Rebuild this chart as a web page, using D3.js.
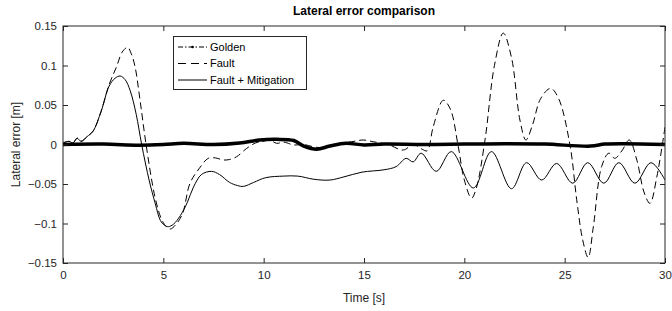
<!DOCTYPE html>
<html>
<head>
<meta charset="utf-8">
<script src="https://cdn.jsdelivr.net/npm/d3@7"></script>
<style>
  body { margin: 0; background: #fff; }
  svg { display: block; font-family: 'Liberation Sans', Arial, sans-serif; }
</style>
</head>
<body>
<svg id="chart" width="672" height="311"></svg>
<script>
const xTicks = [0, 5, 10, 15, 20, 25, 30];
const yTicks = [-0.15, -0.1, -0.05, 0, 0.05, 0.1, 0.15];

const goldenT = [0, 2, 3.8, 5, 6, 7.5, 8.8, 9.8, 10.65, 11.5, 12.0, 12.64, 13.3, 14.1, 15, 16, 18, 20, 22, 24, 26.3, 27, 28, 30];
const goldenV = [0, 0.0005, -0.0008, 0, 0.0015, 0, 0.002, 0.0057, 0.0065, 0.005, -0.002, -0.006, -0.002, 0.0015, -0.0006, 0.0005, 0, 0.0005, 0.001, 0.0005, -0.002, 0.0005, 0.001, 0];

const faultT = [0, 0.3, 0.5, 0.7, 0.9, 1.2, 1.5, 1.9, 2.3, 2.67, 2.95, 3.22, 3.4, 3.59, 3.84, 4.14, 4.58, 4.9, 5.15, 5.35, 5.6, 5.95, 6.33, 6.8, 7.24, 7.6, 7.99, 8.3, 8.65, 9.15, 9.6, 9.9, 10.3, 10.65, 11.0, 11.5, 12.0, 12.5, 13.0, 13.5, 14.5, 14.96, 15.46, 16.2, 16.96, 17.45, 17.9, 18.15, 18.45, 18.95, 19.3, 19.7, 20.0, 20.36, 20.6, 21.03, 21.5, 21.94, 22.35, 22.77, 23.07, 23.4, 23.8, 24.3, 24.7, 25.26, 25.6, 25.9, 26.17, 26.43, 26.84, 27.2, 27.5, 27.85, 28.22, 28.6, 28.95, 29.25, 29.6, 30];
const faultV = [0.002, 0.004, 0.002, 0.008, 0.004, 0.010, 0.017, 0.042, 0.076, 0.0985, 0.117, 0.123, 0.115, 0.0985, 0.056, 0, -0.066, -0.094, -0.104, -0.107, -0.102, -0.088, -0.049, -0.030, -0.0175, -0.017, -0.0196, -0.019, -0.0155, -0.005, 0.002, 0.0035, 0.0055, 0.0015, 0.003, -0.0006, 0, -0.003, -0.004, 0, 0.004, 0.0057, 0.0035, 0, -0.007, 0, -0.006, -0.008, 0.0225, 0.056, 0.045, -0.003, -0.045, -0.068, -0.055, 0.0057, 0.1, 0.141, 0.11, 0.031, 0.0057, 0.025, 0.058, 0.071, 0.058, 0, -0.07, -0.121, -0.143, -0.104, -0.028, -0.011, -0.0175, -0.008, 0.0057, -0.02, -0.06, -0.0745, -0.04, 0.022];

const mitigT = [0, 0.3, 0.5, 0.7, 0.9, 1.2, 1.5, 1.9, 2.3, 2.6, 2.85, 3.1, 3.35, 3.65, 3.92, 4.3, 4.6, 4.85, 5.05, 5.25, 5.5, 5.85, 6.2, 6.5, 6.9, 7.4, 7.8, 8.3, 8.7, 9.0, 9.5, 10.1, 11.0, 11.7, 12.5, 13.3, 14.0, 14.9, 16.0, 16.6, 17.1, 17.45, 17.85, 18.6, 19.35, 20.45, 21.35, 22.35, 23.1, 23.85, 24.6, 25.4, 26.15, 26.95, 27.7, 28.5, 29.3, 30];
const mitigV = [0.002, 0.004, 0.002, 0.008, 0.004, 0.010, 0.017, 0.042, 0.074, 0.084, 0.0867, 0.082, 0.068, 0.038, 0, -0.046, -0.075, -0.096, -0.102, -0.104, -0.101, -0.090, -0.073, -0.054, -0.038, -0.034, -0.038, -0.048, -0.052, -0.053, -0.048, -0.042, -0.040, -0.040, -0.044, -0.045, -0.041, -0.035, -0.032, -0.028, -0.0175, -0.022, -0.011, -0.034, -0.009, -0.055, -0.009, -0.056, -0.023, -0.045, -0.024, -0.049, -0.023, -0.049, -0.023, -0.049, -0.023, -0.045];

const legendLabels = ['Golden', 'Fault', 'Fault + Mitigation'];

const AXIS_COLOR = '#262626';
const LEFT = 63, RIGHT = 665, TOP = 26, BOTTOM = 263;

const svg = d3.select('#chart');
const x = d3.scaleLinear().domain([0, 30]).range([LEFT, RIGHT]);
const y = d3.scaleLinear().domain([-0.15, 0.15]).range([BOTTOM, TOP]);

const zip = (ts, vs) => ts.map((t, i) => [t, vs[i]]);
const line = d3.line()
  .x((d) => x(d[0]))
  .y((d) => y(d[1]))
  .curve(d3.curveCatmullRom.alpha(0.5));

svg.append('defs').append('clipPath').attr('id', 'clip')
  .append('rect')
  .attr('x', LEFT).attr('y', TOP)
  .attr('width', RIGHT - LEFT).attr('height', BOTTOM - TOP);

const plot = svg.append('g').attr('clip-path', 'url(#clip)');

plot.append('path')
  .datum(zip(mitigT, mitigV))
  .attr('d', line)
  .attr('fill', 'none')
  .attr('stroke', '#000')
  .attr('stroke-width', 1);

plot.append('path')
  .datum(zip(faultT, faultV))
  .attr('d', line)
  .attr('fill', 'none')
  .attr('stroke', '#000')
  .attr('stroke-width', 1)
  .attr('stroke-dasharray', '7,4');

plot.append('path')
  .datum(zip(goldenT, goldenV))
  .attr('d', line)
  .attr('fill', 'none')
  .attr('stroke', '#000')
  .attr('stroke-width', 3.5);

// axes, matlab-style box with inward ticks
const tickLen = 5;
const bottomAxis = d3.axisBottom(x).tickValues(xTicks).tickSize(-tickLen).tickPadding(8).tickFormat(d3.format('d'));
const topAxis = d3.axisTop(x).tickValues(xTicks).tickSize(-tickLen).tickFormat('');
const leftAxis = d3.axisLeft(y).tickValues(yTicks).tickSize(-tickLen).tickPadding(6).tickFormat((d) => d3.format('')(+d.toFixed(2)));
const rightAxis = d3.axisRight(y).tickValues(yTicks).tickSize(-tickLen).tickFormat('');

const styleAxis = (g) => {
  g.select('.domain').attr('stroke', AXIS_COLOR);
  g.selectAll('.tick line').attr('stroke', AXIS_COLOR);
  g.selectAll('.tick text').attr('fill', AXIS_COLOR).style('font-size', '11.5px');
};

svg.append('g').attr('transform', `translate(0,${BOTTOM})`).call(bottomAxis).call(styleAxis);
svg.append('g').attr('transform', `translate(0,${TOP})`).call(topAxis).call(styleAxis);
svg.append('g').attr('transform', `translate(${LEFT},0)`).call(leftAxis).call(styleAxis);
svg.append('g').attr('transform', `translate(${RIGHT},0)`).call(rightAxis).call(styleAxis);
svg.selectAll('.domain').attr('d', null);
svg.append('rect')
  .attr('x', LEFT).attr('y', TOP)
  .attr('width', RIGHT - LEFT).attr('height', BOTTOM - TOP)
  .attr('fill', 'none').attr('stroke', AXIS_COLOR).attr('stroke-width', 1);

// labels
svg.append('text')
  .attr('x', (LEFT + RIGHT) / 2).attr('y', 15)
  .attr('text-anchor', 'middle')
  .style('font-size', '12px').style('font-weight', 'bold')
  .attr('fill', '#000')
  .text('Lateral error comparison');

svg.append('text')
  .attr('x', (LEFT + RIGHT) / 2).attr('y', 302)
  .attr('text-anchor', 'middle')
  .style('font-size', '12px')
  .attr('fill', AXIS_COLOR)
  .text('Time [s]');

svg.append('text')
  .attr('transform', `translate(20,${(TOP + BOTTOM) / 2}) rotate(-90)`)
  .attr('text-anchor', 'middle')
  .style('font-size', '12px')
  .attr('fill', AXIS_COLOR)
  .text('Lateral error [m]');

// legend
const legend = svg.append('g');
legend.append('rect')
  .attr('x', 173.5).attr('y', 36.5)
  .attr('width', 133).attr('height', 53)
  .attr('fill', '#fff').attr('stroke', AXIS_COLOR).attr('stroke-width', 1);

const legendY = [47, 63.5, 80];
const dashes = ['5,2,1.5,2', '8,5', null];
legendLabels.forEach((label, i) => {
  legend.append('line')
    .attr('x1', 178).attr('x2', 207)
    .attr('y1', legendY[i]).attr('y2', legendY[i])
    .attr('stroke', '#000').attr('stroke-width', 1)
    .attr('stroke-dasharray', dashes[i]);
  if (i === 0) {
    legend.append('circle')
      .attr('cx', 192.5).attr('cy', legendY[i]).attr('r', 1.3)
      .attr('fill', '#000');
  }
  legend.append('text')
    .attr('x', 210).attr('y', legendY[i])
    .attr('dy', '0.35em')
    .style('font-size', '11px')
    .attr('fill', '#000')
    .text(label);
});
</script>
</body>
</html>
